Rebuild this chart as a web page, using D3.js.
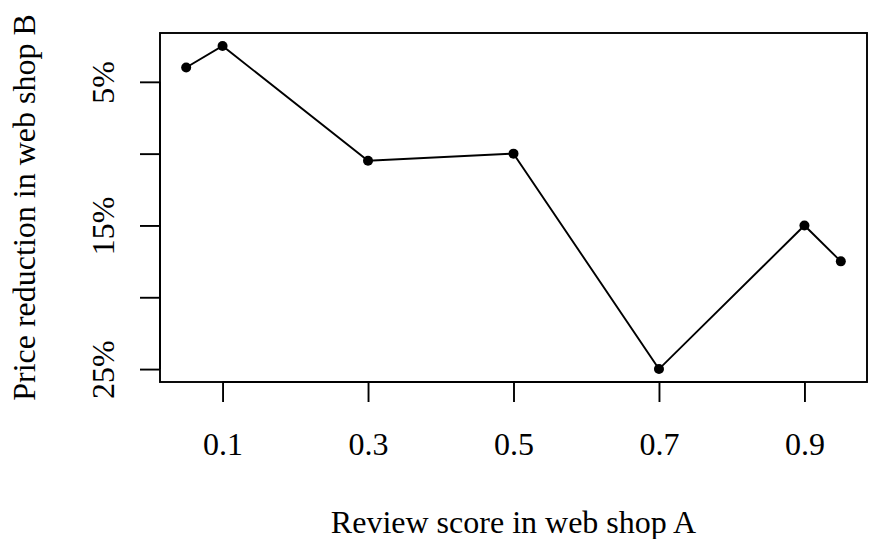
<!DOCTYPE html>
<html>
<head>
<meta charset="utf-8">
<script src="https://cdn.jsdelivr.net/npm/d3@7"></script>
<style>
  body { margin: 0; background: #fff; }
  text { font-family: "Liberation Serif", "DejaVu Serif", serif; fill: #000; }
</style>
</head>
<body>
<svg id="chart"></svg>
<script>
// review score in shop A vs price reduction (%) in shop B
const reviewScores = [0.05, 0.1, 0.3, 0.5, 0.7, 0.9, 0.95];
const priceReductions = [4, 2.5, 10.5, 10, 25, 15, 17.5];
const xTicks = [0.1, 0.3, 0.5, 0.7, 0.9];
const yTicks = [5, 10, 15, 20, 25];
const yTickLabels = ["5%", "", "15%", "", "25%"];

const width = 873;
const height = 539;
const fontSize = 32;
const lw = 1.9;

const svg = d3.select("#chart")
  .attr("width", width)
  .attr("height", height);

// R-style 4% padding around data range
const xPad = (d3.max(reviewScores) - d3.min(reviewScores)) * 0.04;
const yPad = (d3.max(priceReductions) - d3.min(priceReductions)) * 0.04;

const x = d3.scaleLinear()
  .domain([d3.min(reviewScores) - xPad, d3.max(reviewScores) + xPad])
  .range([160, 867]);

const y = d3.scaleLinear()
  .domain([d3.min(priceReductions) - yPad, d3.max(priceReductions) + yPad])
  .range([33, 382]);

// plot box
svg.append("rect")
  .attr("x", x.range()[0])
  .attr("y", y.range()[0])
  .attr("width", x.range()[1] - x.range()[0])
  .attr("height", y.range()[1] - y.range()[0])
  .attr("fill", "none")
  .attr("stroke", "#000")
  .attr("stroke-width", lw);

// x axis
const xAxis = svg.append("g")
  .attr("transform", `translate(0,${y.range()[1]})`)
  .call(d3.axisBottom(x).tickValues(xTicks).tickSize(20).tickPadding(30).tickFormat(d3.format(".1f")));

// y axis
const yAxis = svg.append("g")
  .attr("transform", `translate(${x.range()[0]},0)`)
  .call(d3.axisLeft(y).tickValues(yTicks).tickSize(20).tickFormat((d, i) => yTickLabels[i]));

[xAxis, yAxis].forEach(g => {
  g.attr("font-size", fontSize).attr("font-family", "'Liberation Serif', serif");
  g.select(".domain")
    .attr("stroke-width", lw)
    .attr("d", g === xAxis
      ? `M${x(xTicks[0])},0H${x(xTicks[xTicks.length - 1])}`
      : `M0,${y(yTicks[0])}V${y(yTicks[yTicks.length - 1])}`);
  g.selectAll(".tick line").attr("stroke-width", lw);
});

// rotate y tick labels like R (parallel to axis)
yAxis.selectAll(".tick text")
  .attr("x", null)
  .attr("dy", null)
  .attr("text-anchor", "middle")
  .attr("transform", "translate(-57,0) rotate(-90)")
  .attr("dominant-baseline", "central");

// line
const line = d3.line()
  .x((d, i) => x(reviewScores[i]))
  .y(d => y(d));

svg.append("path")
  .datum(priceReductions)
  .attr("d", line)
  .attr("fill", "none")
  .attr("stroke", "#000")
  .attr("stroke-width", lw);

svg.selectAll("circle.pt")
  .data(priceReductions)
  .join("circle")
  .attr("class", "pt")
  .attr("cx", (d, i) => x(reviewScores[i]))
  .attr("cy", d => y(d))
  .attr("r", 5)
  .attr("fill", "#000");

// axis titles
svg.append("text")
  .attr("x", (x.range()[0] + x.range()[1]) / 2)
  .attr("y", 533)
  .attr("text-anchor", "middle")
  .attr("font-size", fontSize)
  .text("Review score in web shop A");

svg.append("text")
  .attr("transform", `translate(35,${(y.range()[0] + y.range()[1]) / 2}) rotate(-90)`)
  .attr("text-anchor", "middle")
  .attr("font-size", fontSize)
  .text("Price reduction in web shop B");
</script>
</body>
</html>
